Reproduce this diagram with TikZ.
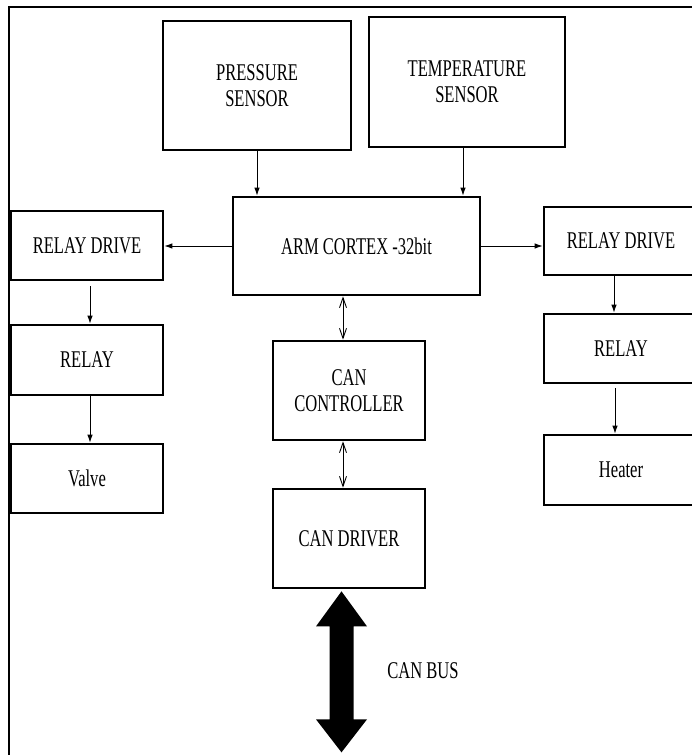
\documentclass[tikz,border=0pt]{standalone}
\usepackage{fontspec}
\setmainfont{Liberation Serif}[FakeStretch=0.69]
\usetikzlibrary{arrows.meta}

\begin{document}
\begin{tikzpicture}[x=1pt, y=-1pt,
  blk/.style={rectangle, draw, line width=2.7pt, align=center, inner sep=0pt},
  arr/.style={-{Latex[length=8pt,width=5.5pt]}, line width=0.9pt},
  biarr/.style={{Straight Barb[length=10pt,width=7pt]}-{Straight Barb[length=10pt,width=7pt]}, line width=0.9pt},
  every node/.style={font=\fontsize{24}{26}\selectfont}]
  \useasboundingbox (0,0) rectangle (692,755);
  \clip (0,0) rectangle (692,755);
  \draw[line width=2pt] (9,790) -- (9,7) -- (730,7);
  \node[blk, minimum width=188pt, minimum height=129pt] (press) at (257,85.5) {PRESSURE\\SENSOR};
  \node[blk, minimum width=196pt, minimum height=130pt] (temp) at (467,82) {TEMPERATURE\\SENSOR};
  \node[blk, minimum width=247pt, minimum height=98pt] (arm) at (356.5,246) {ARM CORTEX -32bit};
  \node[blk, minimum width=152pt, minimum height=69pt] (lrd) at (87,245.5) {RELAY DRIVE};
  \node[blk, minimum width=152pt, minimum height=70pt] (lrel) at (87,360) {RELAY};
  \node[blk, minimum width=152pt, minimum height=69pt] (valve) at (87,478.5) {Valve};
  \node[blk, minimum width=154pt, minimum height=68pt] (rrd) at (621,241) {RELAY DRIVE};
  \node[blk, minimum width=154pt, minimum height=69pt] (rrel) at (621,348.5) {RELAY};
  \node[blk, minimum width=154pt, minimum height=70pt] (heater) at (621,470) {Heater};
  \node[blk, minimum width=152pt, minimum height=99pt] (ctrl) at (349,390.5) {CAN\\CONTROLLER};
  \node[blk, minimum width=152pt, minimum height=99pt] (drv) at (349,538.5) {CAN DRIVER};
  \coordinate (bustop) at ([xshift=-7.5pt, yshift=-2pt]drv.south);
  \node (buslbl) at (423,671) {CAN BUS};
  \draw[arr] (press.south) -- (press.south |- arm.north);
  \draw[arr] ([xshift=-4pt]temp.south) -- ([xshift=-4pt]temp.south |- arm.north);
  \draw[arr] (arm.west) -- (arm.west -| lrd.east);
  \draw[arr] (arm.east) -- (arm.east -| rrd.west);
  \draw[arr, shorten <=5pt] ([xshift=3pt]lrd.south) -- ([xshift=3pt]lrel.north);
  \draw[arr] ([xshift=3pt]lrel.south) -- ([xshift=3pt]valve.north);
  \draw[arr] ([xshift=-7pt]rrd.south) -- ([xshift=-7pt]rrel.north);
  \draw[arr, shorten <=4pt] ([xshift=-6pt]rrel.south) -- ([xshift=-6pt]heater.north);
  \draw[biarr] ([xshift=-6pt]ctrl.north) -- ([xshift=-6pt]ctrl.north |- arm.south);
  \draw[biarr] ([xshift=-6pt]ctrl.south) -- ([xshift=-6pt]drv.north);
  \begin{scope}[shift={(bustop)}]
    \fill (0,0) -- (25.5,35) -- (12,35) -- (12,128) -- (25.5,128) -- (0,161)
      -- (-25.5,128) -- (-12,128) -- (-12,35) -- (-25.5,35) -- cycle;
  \end{scope}
\end{tikzpicture}
\end{document}
